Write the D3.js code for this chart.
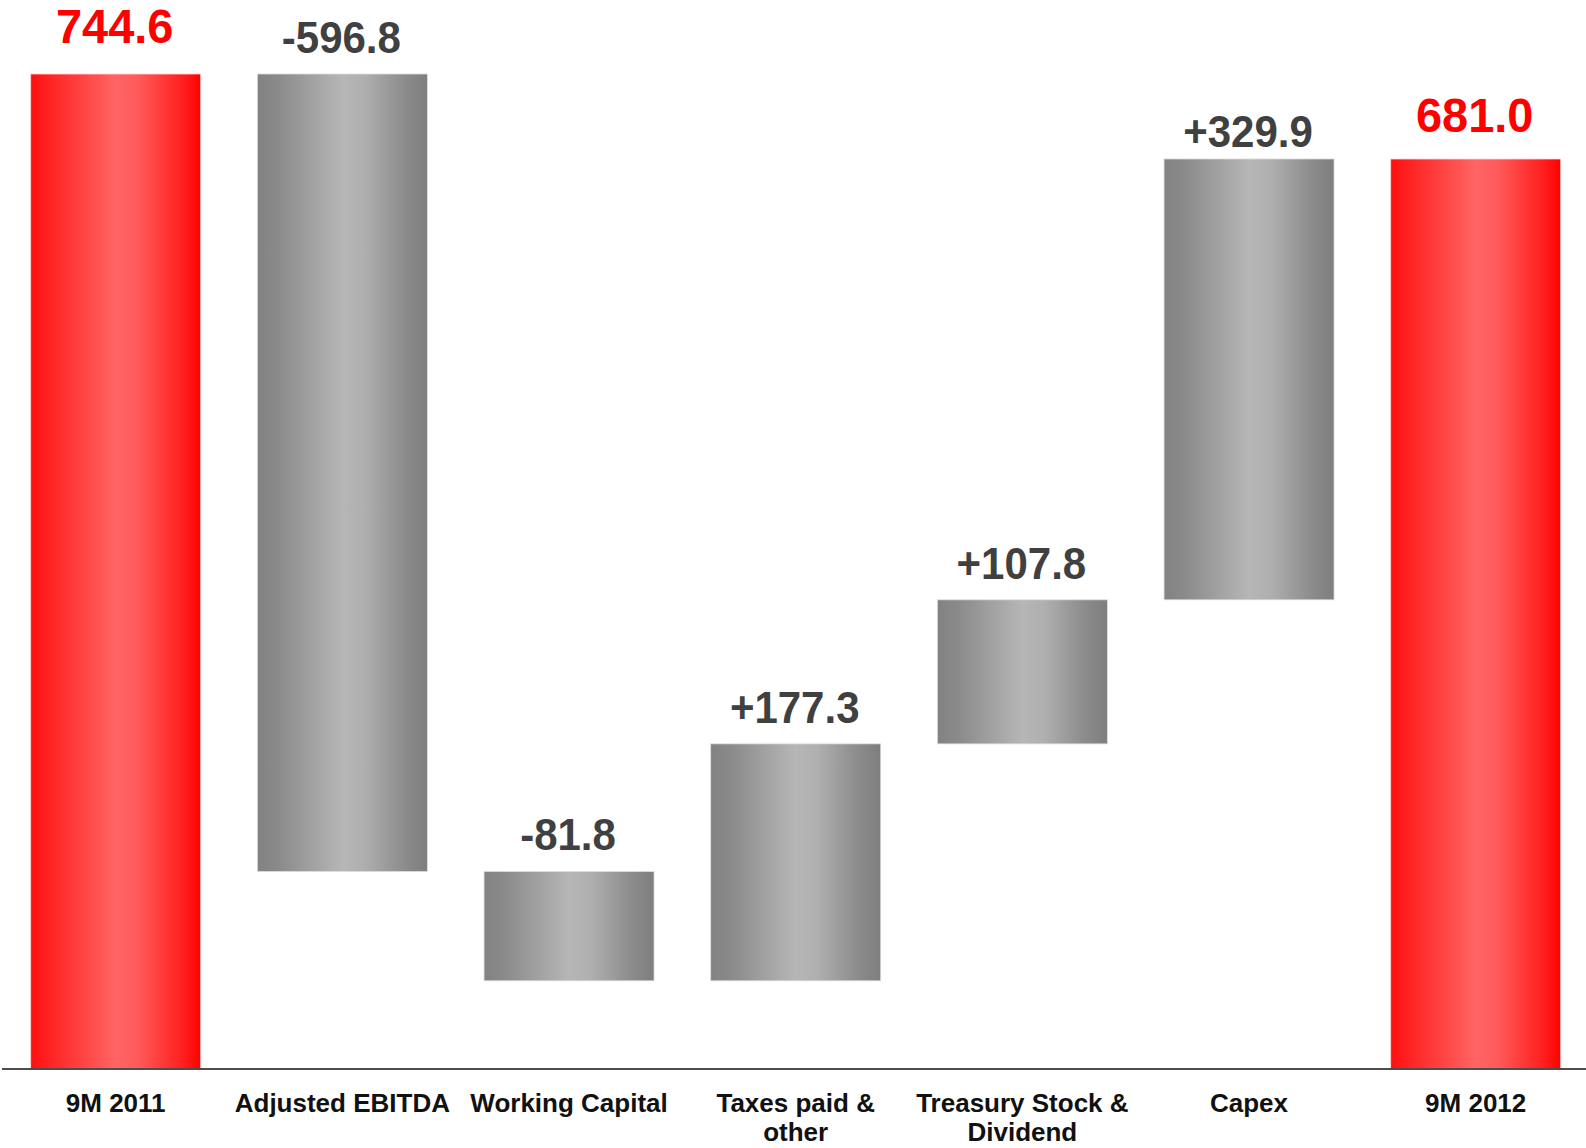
<!DOCTYPE html>
<html>
<head>
<meta charset="utf-8">
<script src="https://cdn.jsdelivr.net/npm/d3@7/dist/d3.min.js"></script>
<style>
  html, body { margin: 0; padding: 0; background: #ffffff; }
  svg { display: block; }
  text { font-family: "Liberation Sans", Arial, Helvetica, sans-serif; font-weight: bold; }
</style>
</head>
<body>
<svg id="chart" width="1586" height="1148"></svg>
<script>
// Net debt bridge, 9M 2011 -> 9M 2012
const categories = ["9M 2011", "Adjusted EBITDA", "Working Capital", "Taxes paid & other",
                    "Treasury Stock & Dividend", "Capex", "9M 2012"];
const labelLines = [["9M 2011"], ["Adjusted EBITDA"], ["Working Capital"], ["Taxes paid &", "other"],
                    ["Treasury Stock &", "Dividend"], ["Capex"], ["9M 2012"]];
const stepValues = [744.6, -596.8, -81.8, 177.3, 107.8, 329.9, 681.0];
const stepKinds = ["total", "delta", "delta", "delta", "delta", "delta", "total"];
const valueLabels = ["744.6", "-596.8", "-81.8", "+177.3", "+107.8", "+329.9", "681.0"];

// Build start/end of each floating segment
let running = 0;
const bars = categories.map((c, i) => {
  let y0, y1;
  if (stepKinds[i] === "total") {
    y0 = 0; y1 = stepValues[i]; running = stepValues[i];
  } else {
    y0 = running; y1 = running + stepValues[i]; running = y1;
  }
  return { cat: c, kind: stepKinds[i], lo: Math.min(y0, y1), hi: Math.max(y0, y1), label: valueLabels[i], lines: labelLines[i] };
});

const svg = d3.select("#chart");
const axisY = 1069;

const x = d3.scaleBand()
  .domain(categories)
  .range([30.7, 1560.7])
  .paddingInner(0.25)
  .paddingOuter(0);

const y = d3.scaleLinear()
  .domain([0, 744.6])
  .range([axisY, 74]);

// Horizontal cylinder-like shading
const defs = svg.append("defs");
const grayGrad = defs.append("linearGradient").attr("id", "gradGray")
  .attr("x1", "0%").attr("x2", "100%").attr("y1", "0%").attr("y2", "0%");
[[0, "#828282"], [0.12, "#8a8a8a"], [0.5, "#b6b6b6"], [0.62, "#b0b0b0"], [0.88, "#8a8a8a"], [1, "#7e7e7e"]]
  .forEach(([o, c]) => grayGrad.append("stop").attr("offset", o).attr("stop-color", c));
const redGrad = defs.append("linearGradient").attr("id", "gradRed")
  .attr("x1", "0%").attr("x2", "100%").attr("y1", "0%").attr("y2", "0%");
[[0, "#ff0f0f"], [0.15, "#ff2a2a"], [0.5, "#ff6464"], [0.62, "#ff5c5c"], [0.9, "#ff1e1e"], [1, "#ff0000"]]
  .forEach(([o, c]) => redGrad.append("stop").attr("offset", o).attr("stop-color", c));

// Bars
svg.append("g").selectAll("rect")
  .data(bars)
  .join("rect")
  .attr("x", d => x(d.cat))
  .attr("width", x.bandwidth())
  .attr("y", d => y(d.hi))
  .attr("height", d => y(d.lo) - y(d.hi))
  .attr("fill", d => d.kind === "total" ? "url(#gradRed)" : "url(#gradGray)")
  .attr("stroke", d => d.kind === "total" ? "#ffd8d8" : "#dcdcdc")
  .attr("stroke-width", 0.8);

// Baseline
svg.append("line")
  .attr("x1", 2).attr("x2", 1586)
  .attr("y1", axisY).attr("y2", axisY)
  .attr("stroke", "#4d4d4d")
  .attr("stroke-width", 2);

// Value labels above each bar (slightly tall lettering)
const labelGap = { "9M 2011": 31, "9M 2012": 27, "Capex": 12 };
svg.append("g").selectAll("text")
  .data(bars)
  .join("text")
  .attr("transform", d => {
    const cx = x(d.cat) + x.bandwidth() / 2 - 1;
    const by = y(d.hi) - (labelGap[d.cat] !== undefined ? labelGap[d.cat] : 21);
    const sy = d.kind === "total" ? 1.04 : 1.07;
    return `translate(${cx},${by}) scale(1,${sy})`;
  })
  .attr("text-anchor", "middle")
  .attr("font-size", d => d.kind === "total" ? 47 : 42)
  .attr("fill", d => d.kind === "total" ? "#ff0000" : "#404040")
  .text(d => d.label);

// Category labels under the axis
const catG = svg.append("g");
bars.forEach(d => {
  const t = catG.append("text")
    .attr("x", x(d.cat) + x.bandwidth() / 2)
    .attr("y", 1112)
    .attr("text-anchor", "middle")
    .attr("font-size", 26)
    .attr("fill", "#111111");
  d.lines.forEach((ln, k) => {
    t.append("tspan")
      .attr("x", x(d.cat) + x.bandwidth() / 2)
      .attr("dy", k === 0 ? 0 : 29)
      .text(ln);
  });
});
</script>
</body>
</html>
